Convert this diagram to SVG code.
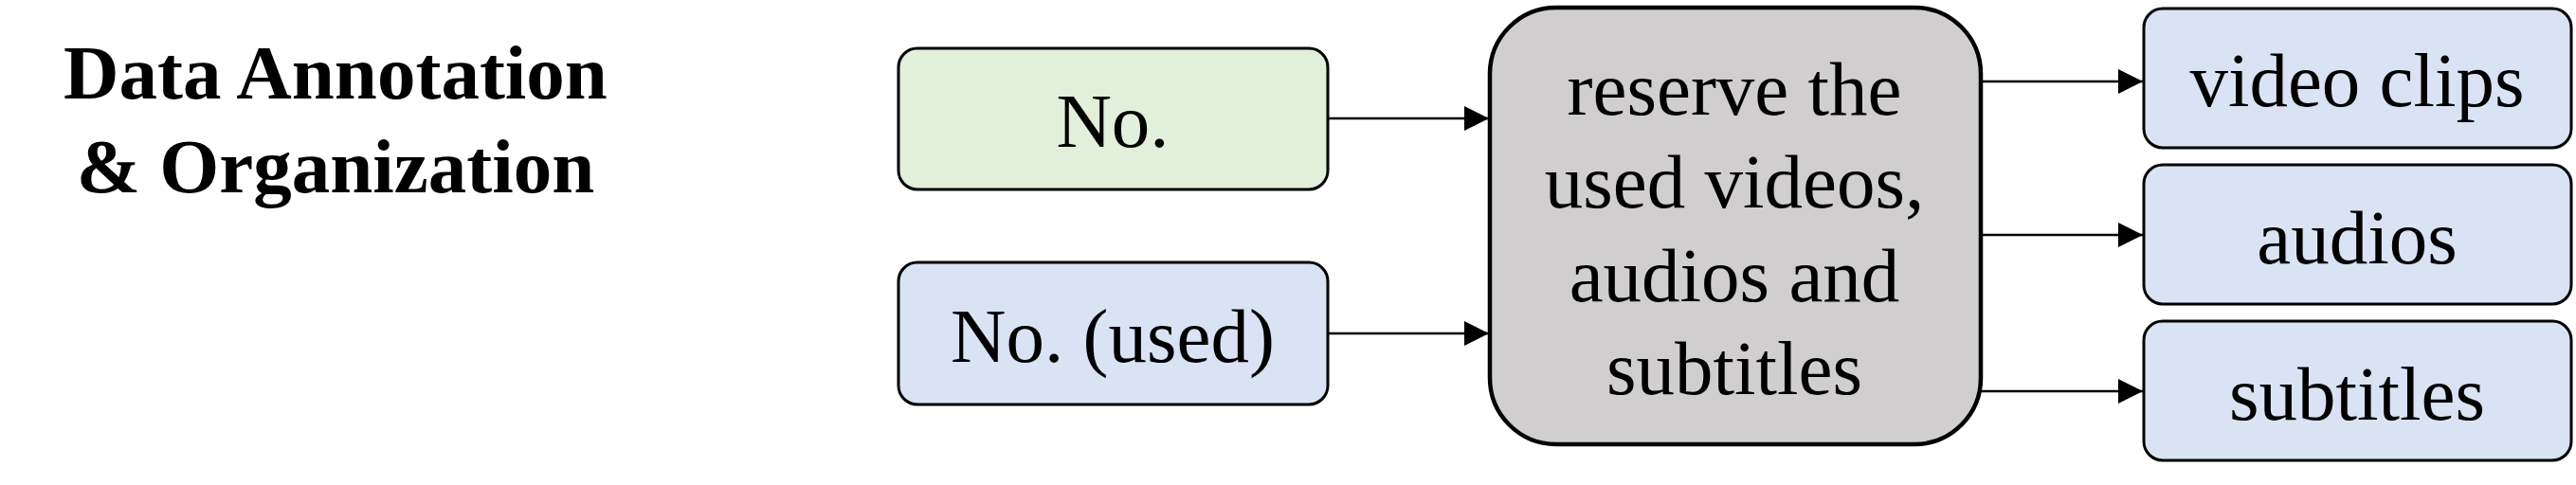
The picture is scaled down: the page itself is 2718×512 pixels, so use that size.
<svg xmlns="http://www.w3.org/2000/svg" width="2718" height="512" viewBox="0 0 2718 512">
<defs>
<marker id="ah" markerUnits="userSpaceOnUse" markerWidth="26" markerHeight="26" refX="26" refY="13" orient="auto">
<path d="M0,0 L26,13 L0,26 Z" fill="#000"/>
</marker>
<style>
.t{font-family:"Liberation Serif","Times New Roman",serif;font-size:81px;fill:#000;text-anchor:middle}
.title{font-family:"Liberation Serif","Times New Roman",serif;font-size:81px;font-weight:bold;fill:#000;text-anchor:middle}
.box{stroke:#000;stroke-width:3}
.green{fill:#E2EFDA}
.blue{fill:#DAE3F3}
.gray{fill:#D0CECE;stroke:#000;stroke-width:4.5}
.conn{stroke:#000;stroke-width:2.5;fill:none;marker-end:url(#ah)}
</style>
</defs>
<rect width="2718" height="512" fill="#fff"/>
<g id="title">
<text class="title" x="354" y="104">Data Annotation</text>
<text class="title" x="354" y="203">&amp; Organization</text>
</g>
<g id="node-no">
<rect class="box green" x="948" y="51" width="453" height="149" rx="20" ry="20"/>
<text class="t" x="1174" y="155">No.</text>
</g>
<g id="node-no-used">
<rect class="box blue" x="948" y="277" width="453" height="150" rx="20" ry="20"/>
<text class="t" x="1174" y="382">No. (used)</text>
</g>
<g id="node-reserve">
<rect class="gray" x="1572" y="8" width="518" height="461" rx="70" ry="70"/>
<text class="t" x="1830" y="121">reserve the</text>
<text class="t" x="1830" y="219">used videos,</text>
<text class="t" x="1830" y="318">audios and</text>
<text class="t" x="1830" y="416">subtitles</text>
</g>
<g id="node-video-clips">
<rect class="box blue" x="2262" y="9" width="451" height="147" rx="20" ry="20"/>
<text class="t" x="2487" y="112">video clips</text>
</g>
<g id="node-audios">
<rect class="box blue" x="2262" y="174" width="451" height="147" rx="20" ry="20"/>
<text class="t" x="2487" y="278">audios</text>
</g>
<g id="node-subtitles">
<rect class="box blue" x="2262" y="339" width="451" height="147" rx="20" ry="20"/>
<text class="t" x="2487" y="443">subtitles</text>
</g>
<g id="connectors">
<path class="conn" d="M1401,125 L1571,125"/>
<path class="conn" d="M1401,352 L1571,352"/>
<path class="conn" d="M2090,86 L2261,86"/>
<path class="conn" d="M2090,248 L2261,248"/>
<path class="conn" d="M2090,413 L2261,413"/>
</g>
</svg>
